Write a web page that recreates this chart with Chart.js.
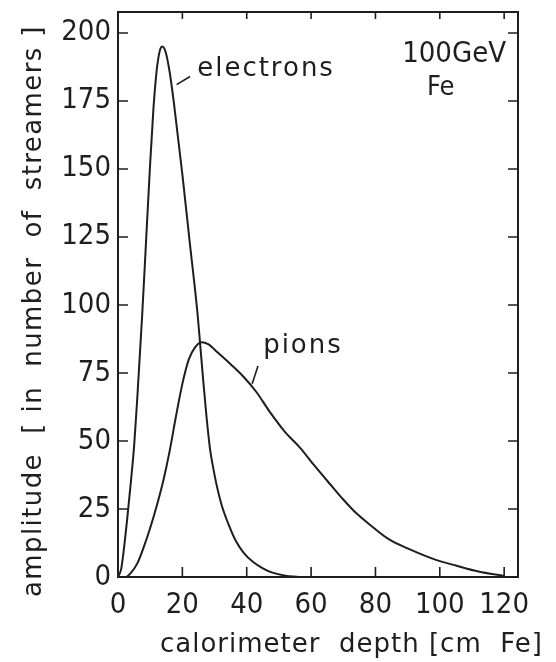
<!DOCTYPE html>
<html lang="en">
<head>
<meta charset="UTF-8">
<title>Longitudinal shower profiles, 100 GeV in Fe</title>
<script src="https://cdn.jsdelivr.net/npm/chart.js"></script>
<style>
  html, body { margin: 0; padding: 0; background: #fff; }
  canvas { display: block; }
</style>
</head>
<body>
<canvas id="profile" width="556" height="662"></canvas>
<script>
// calorimeter depth [cm Fe] vs. amplitude [number of streamers]
const electronDepth = [0, 1, 2, 3, 4, 5, 6, 7.5, 8.7, 9.9, 11, 12, 13, 13.8, 14.8, 16, 17.4, 20, 22.2, 24.7, 25.5, 26.5, 27.5, 28.6, 29.6, 30.7, 32.2, 34.3, 36.5, 39, 42, 45, 48, 52, 56];
const electronAmp   = [0, 3, 12, 23, 35, 48, 66, 96, 123, 150, 172, 186, 193.5, 195, 193, 186, 174, 148, 124, 97, 86, 72, 59, 47, 40, 33.5, 26.5, 19.5, 13.5, 9, 5.5, 3.2, 1.6, 0.5, 0];

const pionDepth = [0, 2.5, 4, 6, 8, 10, 12, 14, 16, 18, 20, 22, 24, 26, 28, 31, 35, 39, 43, 47, 52, 56.6, 61, 66, 70, 74, 78, 84, 90, 99, 105, 112, 120];
const pionAmp   = [0, 0, 1.5, 5, 11, 18, 26, 35, 46, 59, 71, 80, 84.5, 86.3, 85.6, 82.5, 78.2, 73.6, 68, 61, 53.2, 47.5, 41, 34, 28.5, 23.5, 19.5, 14, 10.5, 6.2, 4.2, 2, 0.4];

const depthTicks = [0, 20, 40, 60, 80, 100, 120];
const ampTicks   = [0, 25, 50, 75, 100, 125, 150, 175, 200];

const ink = '#1e1e1e';
const numFont = '"Liberation Sans Narrow", "DejaVu Sans Condensed", sans-serif';
const textFont = '"DejaVu Sans", sans-serif';

function points(xs, ys) {
  return xs.map((x, i) => ({ x: x, y: ys[i] }));
}

// frame, inward ticks on all four sides, curve labels and axis titles
const decorations = {
  id: 'decorations',
  afterDraw(chart) {
    const { ctx, chartArea: a, scales: { x, y } } = chart;
    ctx.save();
    ctx.strokeStyle = ink;
    ctx.lineWidth = 2;
    ctx.beginPath();
    ctx.moveTo(a.left, a.top);
    ctx.lineTo(a.right, a.top);
    ctx.lineTo(a.right, a.bottom);
    ctx.stroke();

    ctx.lineWidth = 1.6;
    ctx.beginPath();
    depthTicks.forEach(v => {
      const px = x.getPixelForValue(v);
      ctx.moveTo(px, a.bottom); ctx.lineTo(px, a.bottom - 10);
      ctx.moveTo(px, a.top); ctx.lineTo(px, a.top + 7);
    });
    ampTicks.forEach(v => {
      const py = y.getPixelForValue(v);
      ctx.moveTo(a.left, py); ctx.lineTo(a.left + 10, py);
      ctx.moveTo(a.right, py); ctx.lineTo(a.right - 10, py);
    });
    // leaders from the curves to their names
    ctx.moveTo(x.getPixelForValue(18.2), y.getPixelForValue(181));
    ctx.lineTo(x.getPixelForValue(22.4), y.getPixelForValue(184));
    ctx.moveTo(x.getPixelForValue(41.7), y.getPixelForValue(71));
    ctx.lineTo(x.getPixelForValue(43.5), y.getPixelForValue(77.6));
    ctx.stroke();

    ctx.fillStyle = ink;
    ctx.textAlign = 'left';
    ctx.textBaseline = 'alphabetic';
    ctx.font = '26px ' + textFont;
    ctx.letterSpacing = '2px';
    ctx.fillText('electrons', x.getPixelForValue(24.6), y.getPixelForValue(184.2));
    ctx.fillText('pions', x.getPixelForValue(45.1), y.getPixelForValue(82.4));

    ctx.letterSpacing = '0px';
    ctx.font = '29px ' + numFont;
    ctx.fillText('100GeV', x.getPixelForValue(88.3), y.getPixelForValue(189.3));
    ctx.font = '27px ' + numFont;
    ctx.fillText('Fe', x.getPixelForValue(96), y.getPixelForValue(177.2));

    ctx.font = '26px ' + textFont;
    ctx.letterSpacing = '1px';
    ctx.fillText('calorimeter  depth [cm  Fe]', 160, 652);

    ctx.letterSpacing = '1.4px';
    ctx.translate(41, 597);
    ctx.rotate(-Math.PI / 2);
    ctx.fillText('amplitude  [ in  number  of  streamers ]', 0, 0);
    ctx.restore();
  }
};

new Chart(document.getElementById('profile'), {
  type: 'line',
  data: {
    datasets: [
      {
        label: 'electrons',
        data: points(electronDepth, electronAmp),
        borderColor: ink,
        borderWidth: 2,
        pointRadius: 0,
        cubicInterpolationMode: 'monotone'
      },
      {
        label: 'pions',
        data: points(pionDepth, pionAmp),
        borderColor: ink,
        borderWidth: 2,
        pointRadius: 0,
        cubicInterpolationMode: 'monotone'
      }
    ]
  },
  options: {
    responsive: false,
    devicePixelRatio: 1,
    animation: false,
    layout: { padding: { top: 12, right: 38, left: 0, bottom: 0 } },
    plugins: {
      legend: { display: false },
      tooltip: { enabled: false }
    },
    scales: {
      x: {
        type: 'linear',
        min: 0,
        max: 124.3,
        afterBuildTicks: s => { s.ticks = depthTicks.map(v => ({ value: v })); },
        afterFit: s => { s.height = 85; s.paddingLeft = 0; s.paddingRight = 0; },
        grid: { display: false, drawTicks: false },
        border: { display: true, color: ink, width: 2 },
        ticks: {
          color: ink,
          padding: 11,
          maxRotation: 0,
          font: { family: numFont, size: 29 }
        }
      },
      y: {
        type: 'linear',
        min: 0,
        max: 207.7,
        afterBuildTicks: s => { s.ticks = ampTicks.map(v => ({ value: v })); },
        afterFit: s => { s.width = 118; s.paddingTop = 0; s.paddingBottom = 0; },
        grid: { display: false, drawTicks: false },
        border: { display: true, color: ink, width: 2 },
        ticks: {
          color: ink,
          padding: 7,
          font: { family: numFont, size: 29 }
        }
      }
    }
  },
  plugins: [decorations]
});
</script>
</body>
</html>
